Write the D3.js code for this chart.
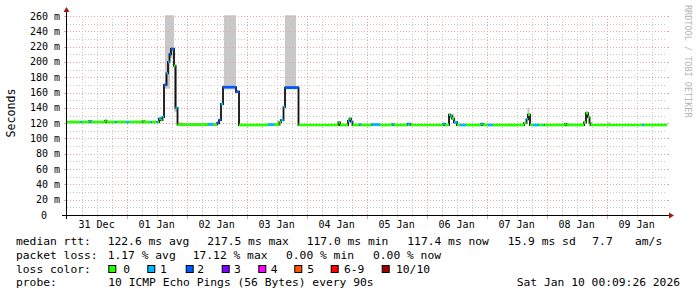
<!DOCTYPE html>
<html>
<head>
<meta charset="utf-8">
<script src="https://cdn.jsdelivr.net/npm/d3@7/dist/d3.min.js"></script>
<style>
  body { margin: 0; background: #fff; }
  svg text { font-family: "DejaVu Sans Mono", monospace; fill: #000; }
</style>
</head>
<body>
<svg id="chart" width="697" height="297"></svg>
<script>
// hours since 31 Dec 00:00, median rtt (ms) and loss bucket for each step
const medianHours = [0.16, 5.36, 5.96, 8.96, 9.76, 15.36, 15.96, 19.56, 20.16, 23.76, 24.96, 30.36, 30.96,
    33.36, 33.96, 35.76, 36.36, 36.96, 37.76, 38.36, 38.96, 39.96, 40.56, 41.16, 41.76, 42.96, 43.56,
    44.36, 56.56, 58.56, 60.16, 60.96, 61.76, 62.56, 67.76, 68.96, 80.56, 82.96, 85.16, 85.76, 86.76,
    87.36, 92.76, 108.76, 109.36, 112.56, 113.16, 113.76, 114.36, 117.16, 117.76, 121.96, 125.36,
    130.16, 130.96, 136.36, 137.56, 150.56, 151.36, 152.96, 153.56, 154.16, 154.96, 156.16, 157.36,
    159.76, 165.76, 166.56, 168.56, 170.56, 182.96, 183.96, 184.56, 185.36, 186.56, 188.96, 190.56,
    191.16, 199.36, 199.96, 206.96, 207.76, 208.56, 209.16, 209.56, 230.16, 230.96];
const medianValues = [121.5, 121.5, 121.5, 122.5, 121.5, 123, 121.5, 121.5, 121.5, 121.5, 121.5, 122.5, 121.5,
    121.5, 121.5, 121.5, 121.5, 126, 124, 128, 170, 185, 200, 210, 217, 195, 140,
    118, 118.5, 118, 120, 124, 145, 167, 161, 117.6, 118, 118, 121, 124, 141,
    166.5, 117.6, 121, 117.6, 123, 126, 122, 117.6, 118, 117.6, 118, 117.6,
    118.5, 117.6, 119, 117.6, 119, 117.6, 131, 129, 126, 121, 117.6, 117.6,
    117.6, 119, 117.6, 117.6, 117.6, 120, 125, 131, 117.6, 117.6, 117.6, 117.6,
    117.6, 119, 117.6, 121, 133, 128, 120, 117.6, 117.6, 117.6];
const lossValues = [0, 1, 0, 1, 0, 0, 0, 1, 0, 1, 0, 0, 0,
    1, 0, 1, 0, 1, 0, 1, 2, 1, 1, 2, 2, 0, 1,
    0, 1, 0, 2, 2, 1, 2, 2, 0, 1, 0, 0, 1, 1,
    2, 0, 0, 0, 1, 0, 1, 0, 1, 0, 1, 0,
    1, 0, 1, 0, 1, 0, 0, 1, 0, 1, 0, 1,
    0, 1, 0, 1, 0, 0, 1, 0, 0, 1, 0, 1,
    0, 0, 0, 0, 0, 0, 0, 0, 1, 0];
const endHour = 240.16;

// smoke (ping spread) bands
const smokeStart = [15.36, 39.36, 41.36, 42.96, 44.76, 62.96, 84.16, 87.36, 113.36, 154.16, 184.36, 207.76, 216.16];
const smokeEnd   = [15.96, 41.36, 42.96, 44.16, 46.56, 67.76, 84.96, 91.76, 114.16, 154.96, 185.16, 208.56, 217.36];
const smokeLow   = [121, 165, 205, 135, 117, 164, 118, 164, 121, 124, 127, 127, 117];
const smokeHigh  = [126, 261, 261, 195, 121, 261, 124, 261, 127, 132, 140, 136, 121];

const yTickValues = [0, 20, 40, 60, 80, 100, 120, 140, 160, 180, 200, 220, 240, 260];
const dayLabels = ["31 Dec", "01 Jan", "02 Jan", "03 Jan", "04 Jan", "05 Jan", "06 Jan", "07 Jan", "08 Jan", "09 Jan"];

const lossLabels = ["0", "1", "2", "3", "4", "5", "6-9", "10/10"];
const lossColors = ["#26ff00", "#00b8ff", "#0059ff", "#7e00ff", "#ff00ff", "#ff5500", "#ff0000", "#a10000"];

const rttStats = ["122.6 ms avg", "217.5 ms max", "117.0 ms min", "117.4 ms now", "15.9 ms sd", "7.7", "am/s"];
const lossStats = ["1.17 % avg", "17.12 % max", "0.00 % min", "0.00 % now"];
const probeText = "10 ICMP Echo Pings (56 Bytes) every 90s";
const dateText = "Sat Jan 10 00:09:26 2026";

const svg = d3.select("#chart");

const x = d3.scaleLinear().domain([0.157, 240.157]).range([67, 667]);
const y = d3.scaleLinear().domain([0, 260]).range([215, 16]);
const plotTop = 15;

// smoke
svg.append("g").selectAll("rect")
    .data(smokeStart.map((s, i) => ({ s, e: smokeEnd[i], lo: smokeLow[i], hi: smokeHigh[i] })))
    .enter().append("rect")
    .attr("x", d => x(d.s))
    .attr("width", d => x(d.e) - x(d.s))
    .attr("y", d => Math.max(plotTop, y(d.hi)))
    .attr("height", d => y(d.lo) - Math.max(plotTop, y(d.hi)))
    .attr("fill", "#c8c8c8");

// grid
const grid = svg.append("g");
const minorH = d3.range(10, 260, 20);
grid.selectAll(".hmin").data(minorH).enter().append("line")
    .attr("x1", 67).attr("x2", 667)
    .attr("y1", d => Math.round(y(d)) + 0.5).attr("y2", d => Math.round(y(d)) + 0.5)
    .attr("stroke", "#c8c8c8").attr("stroke-dasharray", "1,2");
grid.selectAll(".hmaj").data(yTickValues.slice(1)).enter().append("line")
    .attr("x1", 67).attr("x2", 667)
    .attr("y1", d => Math.round(y(d)) + 0.5).attr("y2", d => Math.round(y(d)) + 0.5)
    .attr("stroke", "#e8a0a0").attr("stroke-dasharray", "1,2");
const sixHours = d3.range(6, 240, 6);
grid.selectAll(".v").data(sixHours).enter().append("line")
    .attr("x1", d => Math.round(x(d)) + 0.5).attr("x2", d => Math.round(x(d)) + 0.5)
    .attr("y1", 16).attr("y2", 215)
    .attr("stroke", d => d % 24 === 0 ? "#e8a0a0" : "#c8c8c8")
    .attr("stroke-dasharray", "1,2");
// end ticks on grid lines
grid.selectAll(".ht").data(yTickValues.slice(1)).enter().append("path")
    .attr("d", d => `M64,${Math.round(y(d)) + 0.5}H67M667,${Math.round(y(d)) + 0.5}H669`)
    .attr("stroke", "#e8a0a0");
grid.selectAll(".vt").data(sixHours).enter().append("line")
    .attr("x1", d => Math.round(x(d)) + 0.5).attr("x2", d => Math.round(x(d)) + 0.5)
    .attr("y1", 215).attr("y2", d => d % 24 === 0 ? 219 : 217)
    .attr("stroke", d => d % 24 === 0 ? "#e8a0a0" : "#c8c8c8");

// median line
const pts = medianHours.map((h, i) => ({ h, v: medianValues[i], loss: lossValues[i] }));
const stepPts = pts.concat([{ h: endHour, v: medianValues[medianValues.length - 1] }]);
svg.append("path")
    .datum(stepPts)
    .attr("d", d3.line().x(d => x(d.h)).y(d => y(d.v)).curve(d3.curveStepAfter))
    .attr("fill", "none").attr("stroke", "#111").attr("stroke-width", 1.8);

svg.append("g").selectAll("line")
    .data(pts.map((d, i) => ({ ...d, e: stepPts[i + 1].h })))
    .enter().append("line")
    .attr("x1", d => x(d.h)).attr("x2", d => x(d.e))
    .attr("y1", d => y(d.v)).attr("y2", d => y(d.v))
    .attr("stroke", d => lossColors[d.loss])
    .attr("stroke-width", 2.7);

// axes
svg.append("line").attr("x1", 62).attr("x2", 670).attr("y1", 215.5).attr("y2", 215.5).attr("stroke", "#000");
svg.append("line").attr("x1", 66.5).attr("x2", 66.5).attr("y1", 219).attr("y2", 11).attr("stroke", "#000");
svg.append("path").attr("d", "M669,212.5L674,215.5L669,218.5Z").attr("fill", "#a01818");
svg.append("path").attr("d", "M63.5,12L66.5,7L69.5,12Z").attr("fill", "#a01818");

svg.append("g").selectAll("text").data(yTickValues).enter().append("text")
    .attr("x", d => d === 0 ? 47 : 60)
    .attr("y", d => y(d) + 3.5)
    .attr("text-anchor", "end")
    .style("font-size", "10px")
    .text(d => d === 0 ? "0" : `${d} m`);

svg.append("g").selectAll("text").data(dayLabels).enter().append("text")
    .attr("x", (d, i) => x(12 + 24 * i))
    .attr("y", 227.5)
    .attr("text-anchor", "middle")
    .style("font-size", "10px")
    .text(d => d);

svg.append("text")
    .attr("transform", "translate(14.5,113) rotate(-90)")
    .attr("text-anchor", "middle")
    .style("font-size", "11.6px")
    .text("Seconds");

svg.append("text")
    .attr("transform", "translate(684.5,5) rotate(90)")
    .style("font-size", "8.5px")
    .style("fill", "#b4b4b4")
    .text("RRDTOOL / TOBI OETIKER");

// legend
const legend = svg.append("g").style("font-size", "11.3px").attr("xml:space", "preserve");
const rowY = [245, 259, 272.5, 286];
legend.append("text").attr("x", 16).attr("y", rowY[0]).text("median rtt:");
legend.append("text").attr("x", 16).attr("y", rowY[1]).text("packet loss:");
legend.append("text").attr("x", 16).attr("y", rowY[2]).text("loss color:");
legend.append("text").attr("x", 16).attr("y", rowY[3]).text("probe:");

const rttX = [107.7, 207.3, 306.7, 407.3, 507.7, 592.3, 635];
legend.selectAll(".rtt").data(rttStats).enter().append("text")
    .attr("x", (d, i) => rttX[i]).attr("y", rowY[0]).text(d => d);
const lossX = [107.7, 192.7, 286, 373];
legend.selectAll(".pl").data(lossStats).enter().append("text")
    .attr("x", (d, i) => lossX[i]).attr("y", rowY[1]).text(d => d);

const swX = [108.3, 147.3, 185.7, 221.7, 258.3, 294.3, 330.7, 381.7];
const swLabelX = [123.3, 160, 197.3, 234, 270.7, 307.3, 344, 396];
legend.selectAll(".sw").data(lossLabels).enter().append("rect")
    .attr("x", (d, i) => swX[i] + 0.5).attr("y", 265.5)
    .attr("width", 7).attr("height", 7)
    .attr("fill", (d, i) => lossColors[i]).attr("stroke", "#000");
legend.selectAll(".swl").data(lossLabels).enter().append("text")
    .attr("x", (d, i) => swLabelX[i]).attr("y", rowY[2]).text(d => d);

legend.append("text").attr("x", 108.3).attr("y", rowY[3]).text(probeText);
legend.append("text").attr("x", 680).attr("y", rowY[3]).attr("text-anchor", "end").text(dateText);
</script>
</body>
</html>
